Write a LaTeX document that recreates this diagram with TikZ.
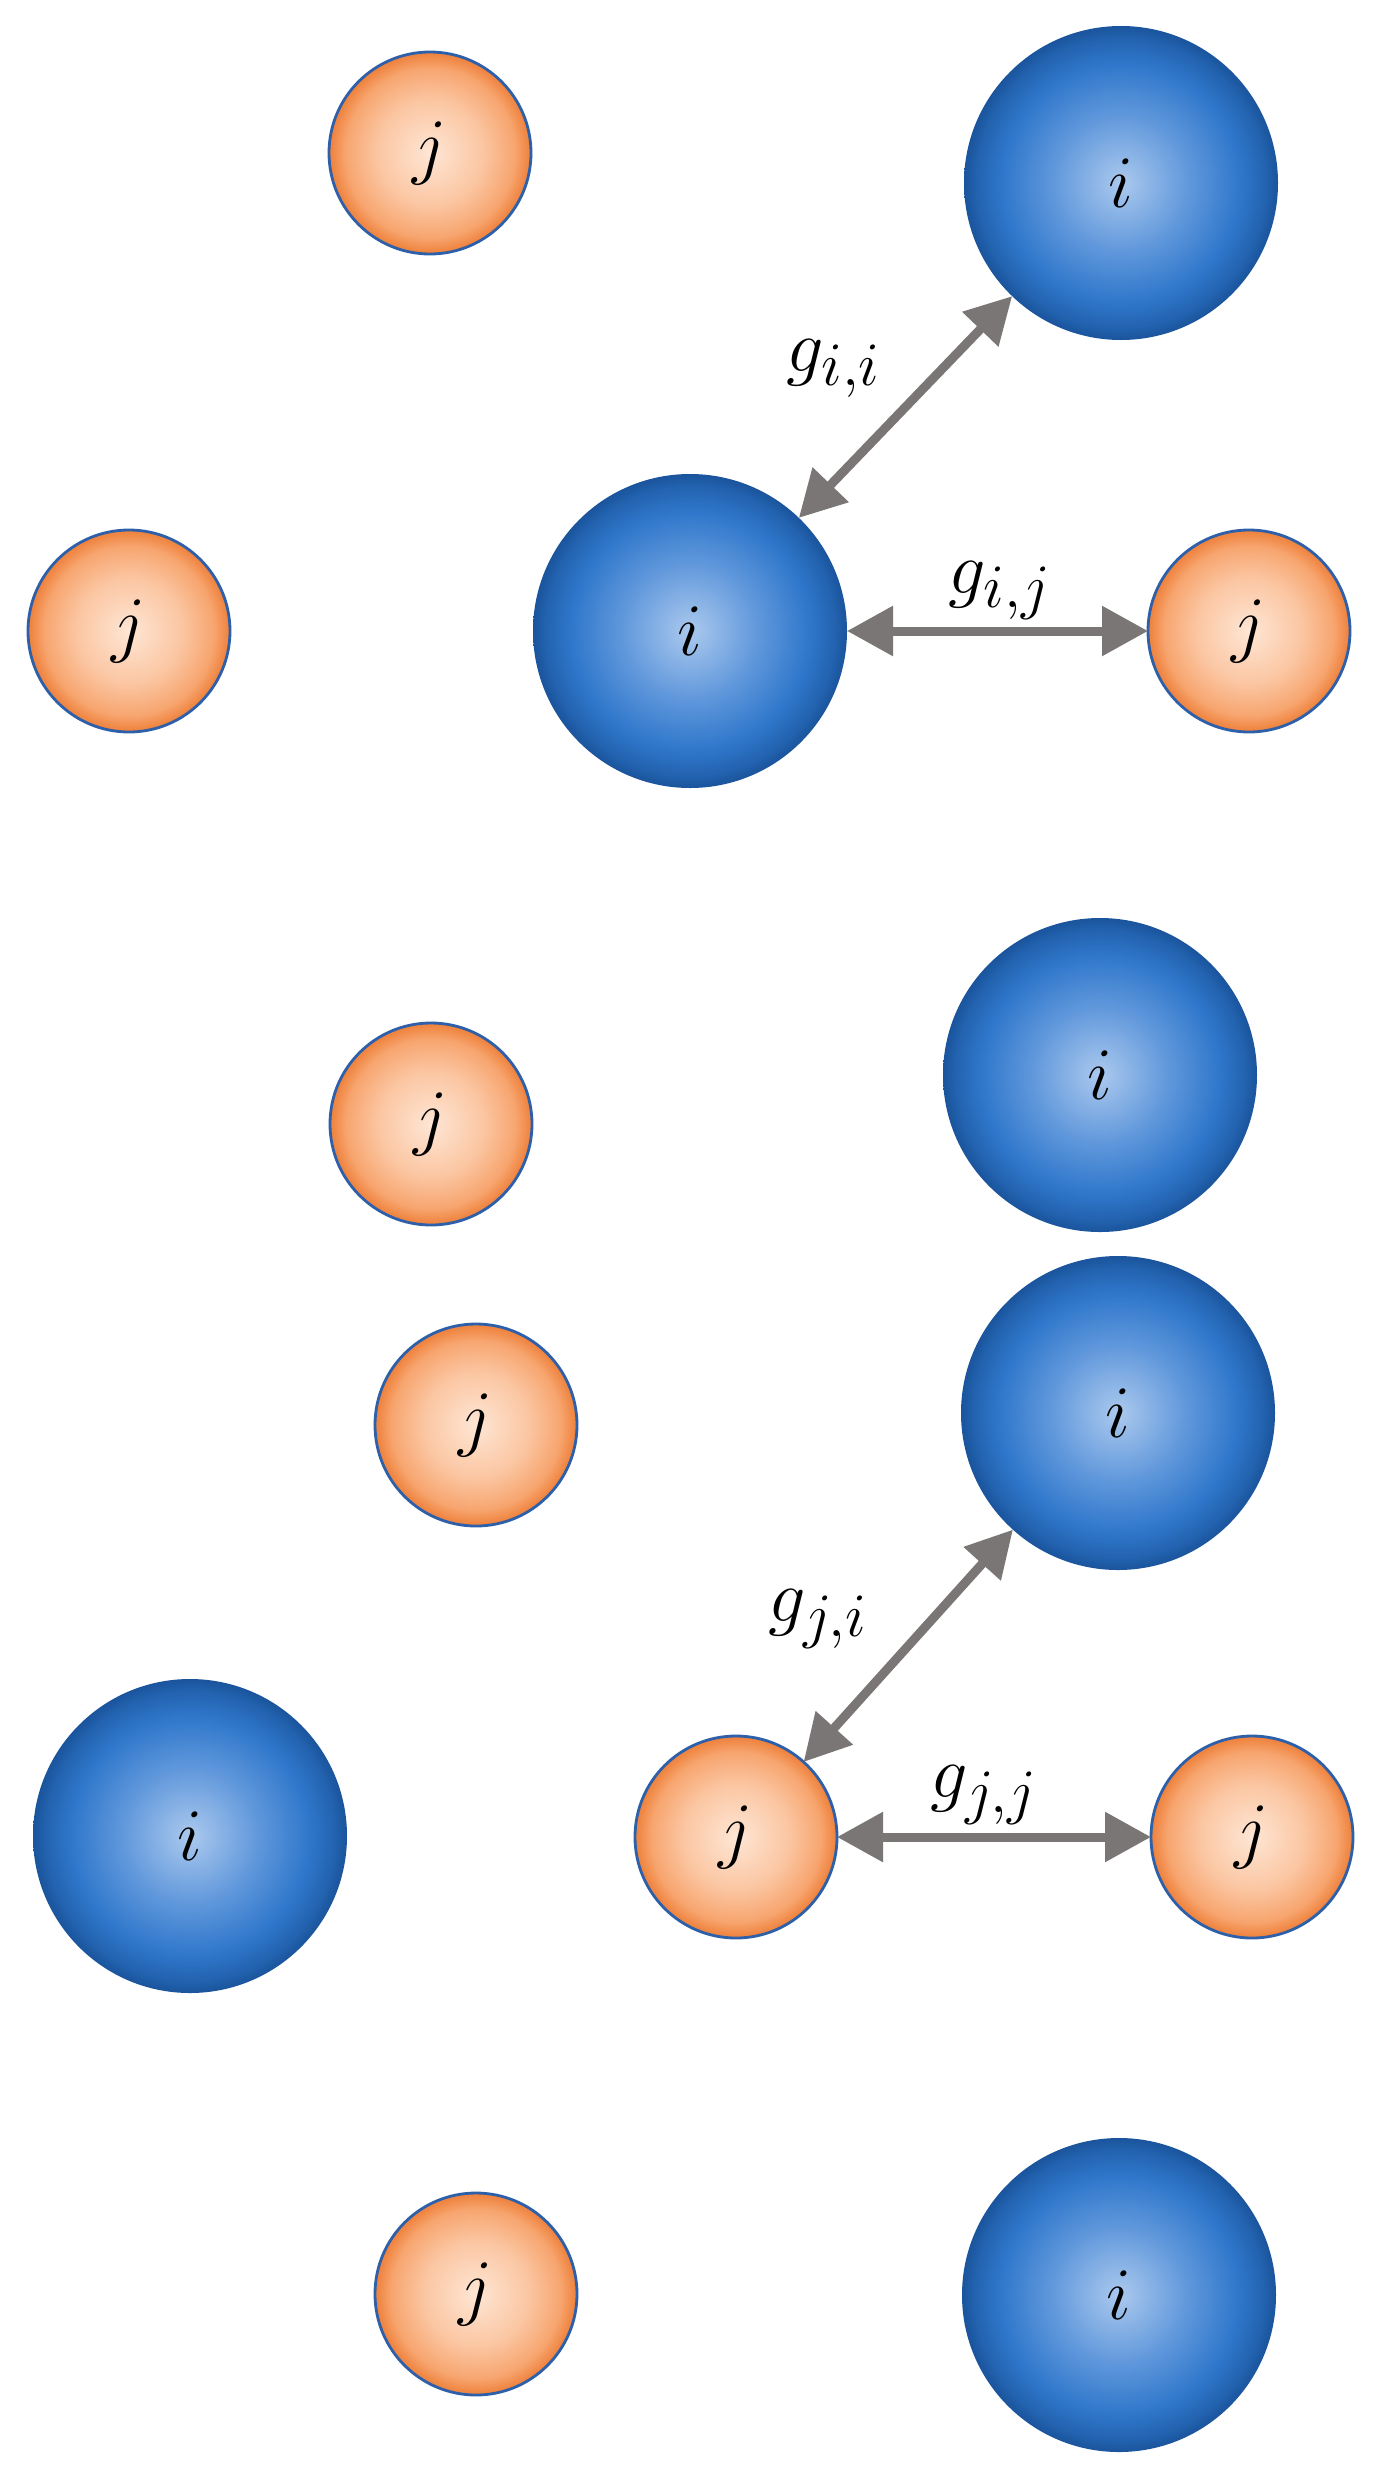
\documentclass[tikz,border=0pt]{standalone}
\usepackage{graphicx}
\usetikzlibrary{arrows.meta}
\definecolor{bA}{HTML}{ABC9EE}
\definecolor{bB}{HTML}{5F97DB}
\definecolor{bC}{HTML}{2F77CB}
\definecolor{bD}{HTML}{2363B0}
\definecolor{bE}{HTML}{1A549C}
\definecolor{oA}{HTML}{FEE6D5}
\definecolor{oB}{HTML}{FBC6A2}
\definecolor{oC}{HTML}{F7A56F}
\definecolor{oD}{HTML}{EF8440}
\definecolor{oline}{HTML}{2D60A8}
\definecolor{gcol}{HTML}{7A7676}
\pgfdeclareradialshading{bluesph}{\pgfpointorigin}{color(0bp)=(bA); color(11bp)=(bB); color(19bp)=(bC); color(23bp)=(bD); color(25bp)=(bE); color(50bp)=(bE)}
\pgfdeclareradialshading{orangesph}{\pgfpointorigin}{color(0bp)=(oA); color(13bp)=(oB); color(21bp)=(oC); color(24.5bp)=(oD); color(25bp)=(oD); color(50bp)=(oD)}
\newcommand{\mylbl}[1]{\scalebox{1.49}{\Huge$#1$}}
\tikzset{
  isph/.style={circle, shading=bluesph, minimum size=157pt, inner sep=0pt, outer sep=0pt},
  jsph/.style={circle, shading=orangesph, draw=oline, line width=1.4pt, minimum size=101pt, inner sep=0pt, outer sep=0pt},
  garrow/.style={draw=gcol, line width=4.5pt, {Triangle[length=23pt,width=24pt]}-{Triangle[length=23pt,width=24pt]}},
  glab/.style={anchor=base, inner sep=0pt}
}
\begin{document}
\begin{tikzpicture}[x=0.5pt,y=-0.5pt]
\path[use as bounding box, fill=white] (0,0) rectangle (1376,2479);
% top group
\node[jsph] (j1) at (430,153) {\mylbl{j}};
\node[isph] (i1) at (1121,183) {\mylbl{i}};
\node[jsph] (j2) at (129,631) {\mylbl{j}};
\node[isph] (i2) at (690,631) {\mylbl{i}};
\node[jsph] (j3) at (1249,631) {\mylbl{j}};
\draw[garrow] (i2) -- (i1);
\draw[garrow] (i2) -- (j3);
\node[glab] (lii) at (834,371) {\mylbl{g_{i,i}}};
\node[glab] (lij) at (1000,593) {\mylbl{g_{i,j}}};
% lower group
\node[jsph] (j4) at (431,1124) {\mylbl{j}};
\node[isph] (i3) at (1100,1075) {\mylbl{i}};
\node[jsph] (j5) at (476,1425) {\mylbl{j}};
\node[isph] (i4) at (1118,1413) {\mylbl{i}};
\node[isph] (i5) at (190,1836) {\mylbl{i}};
\node[jsph] (j6) at (736,1837) {\mylbl{j}};
\node[jsph] (j7) at (1252,1837) {\mylbl{j}};
\node[jsph] (j8) at (476,2294) {\mylbl{j}};
\node[isph] (i6) at (1119,2295) {\mylbl{i}};
\draw[garrow] (j6) -- (i4);
\draw[garrow] (j6) -- (j7);
\node[glab] (lji) at (818,1621) {\mylbl{g_{j,i}}};
\node[glab] (ljj) at (984,1797) {\mylbl{g_{j,j}}};
\end{tikzpicture}
\end{document}
